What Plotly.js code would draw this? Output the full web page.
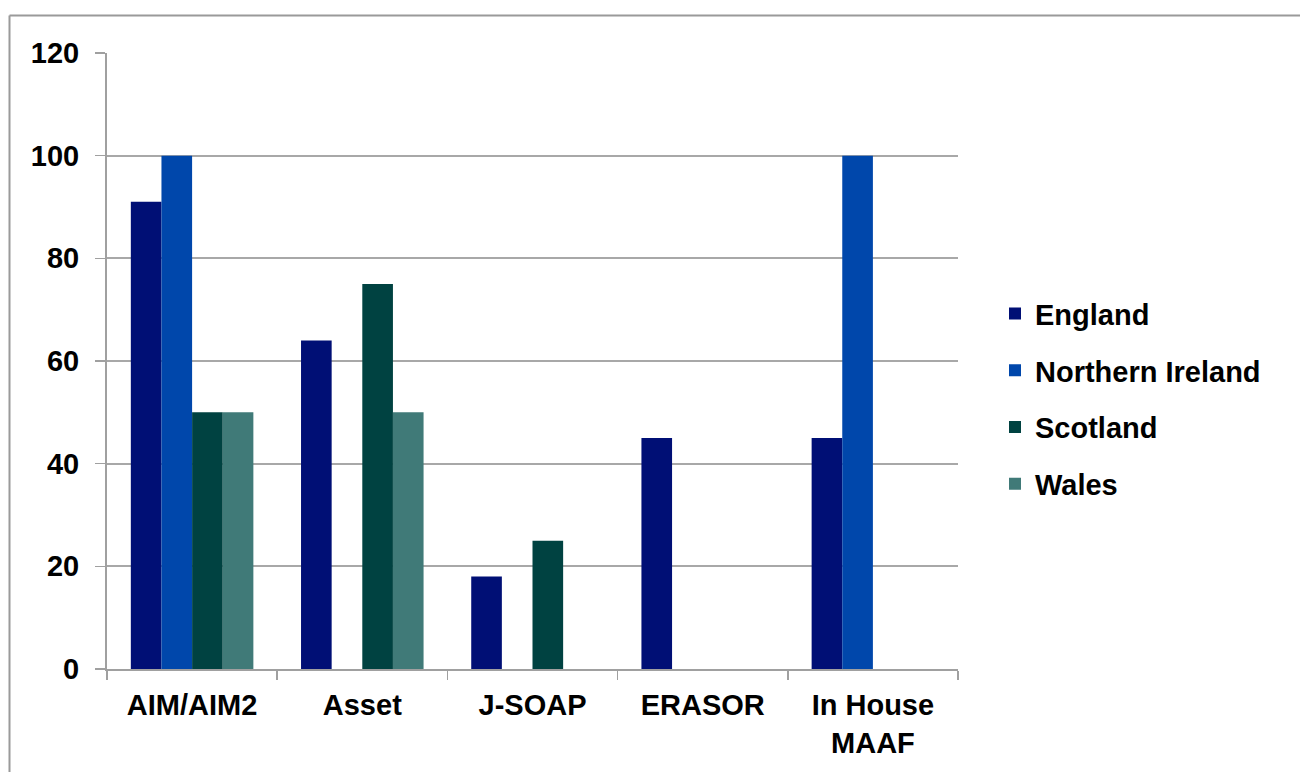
<!DOCTYPE html>
<html>
<head>
<meta charset="utf-8">
<script src="https://cdn.plot.ly/plotly-3.0.1.min.js"></script>
<style>html,body{margin:0;padding:0;background:#fff;}#chart{width:1300px;height:772px;}</style>
</head>
<body>
<div id="chart"></div>
<script>
const categories = ["AIM/AIM2", "Asset", "J-SOAP", "ERASOR", "In House<br>MAAF"];
const seriesNames = ["England", "Northern Ireland", "Scotland", "Wales"];
const england = [91, 64, 18, 45, 45];
const northernIreland = [100, 0, 0, 0, 100];
const scotland = [50, 75, 25, 0, 0];
const wales = [50, 50, 0, 0, 0];
const yTicks = [0, 20, 40, 60, 80, 100, 120];
const colors = ["#000F75", "#0047AB", "#004241", "#407A78"];

const values = [england, northernIreland, scotland, wales];
const traces = seriesNames.map((name, i) => ({
  type: "bar",
  name: name,
  x: categories,
  y: values[i],
  marker: {color: colors[i], line: {width: 0}},
  legendgroup: "g" + i,
  hoverinfo: "x+y+name"
}));

const font = {family: "Liberation Sans, Arial, sans-serif", size: 29, color: "#000", weight: "bold"};
const L = 107, R = 958, T = 52.5, B = 669;
const W = R - L, H = B - T;
const px = v => (v - L) / W;
const py = v => (B - v) / H;

const layout = {
  width: 1300, height: 772,
  margin: {l: L, r: 1300 - R, t: T, b: 772 - B, pad: 0},
  paper_bgcolor: "#fff", plot_bgcolor: "#fff",
  font: font,
  barmode: "group",
  bargap: 0.28,
  bargroupgap: 0,
  showlegend: true,
  legend: {
    x: px(995), xanchor: "left",
    y: py(398.5), yanchor: "middle",
    font: font,
    traceorder: "grouped",
    tracegroupgap: 16,
    bgcolor: "rgba(0,0,0,0)"
  },
  xaxis: {
    type: "category",
    tickson: "boundaries",
    ticks: "outside", ticklen: 9, tickwidth: 1.5, tickcolor: "#a0a0a0",
    showline: true, linecolor: "#a0a0a0", linewidth: 2,
    showgrid: false, zeroline: false,
    tickfont: font,
    ticklabelstandoff: 9,
    fixedrange: true
  },
  yaxis: {
    range: [0, 120],
    tickmode: "array", tickvals: yTicks, ticktext: yTicks.map(String),
    ticks: "outside", ticklen: 10, tickwidth: 1.5, tickcolor: "#a0a0a0",
    showline: true, linecolor: "#a0a0a0", linewidth: 2,
    showgrid: true, gridcolor: "#a8a8a8", gridwidth: 2,
    zeroline: false,
    tickfont: font,
    ticklabelstandoff: 10,
    fixedrange: true
  },
  shapes: [
    {type: "line", xref: "paper", yref: "paper", x0: px(9.5), x1: px(1400), y0: py(15), y1: py(15), line: {color: "#9a9a9a", width: 2}},
    {type: "line", xref: "paper", yref: "paper", x0: px(9.5), x1: px(9.5), y0: py(15), y1: py(900), line: {color: "#9a9a9a", width: 2}}
  ]
};

Plotly.newPlot("chart", traces, layout, {displayModeBar: false, staticPlot: true});
</script>
</body>
</html>
